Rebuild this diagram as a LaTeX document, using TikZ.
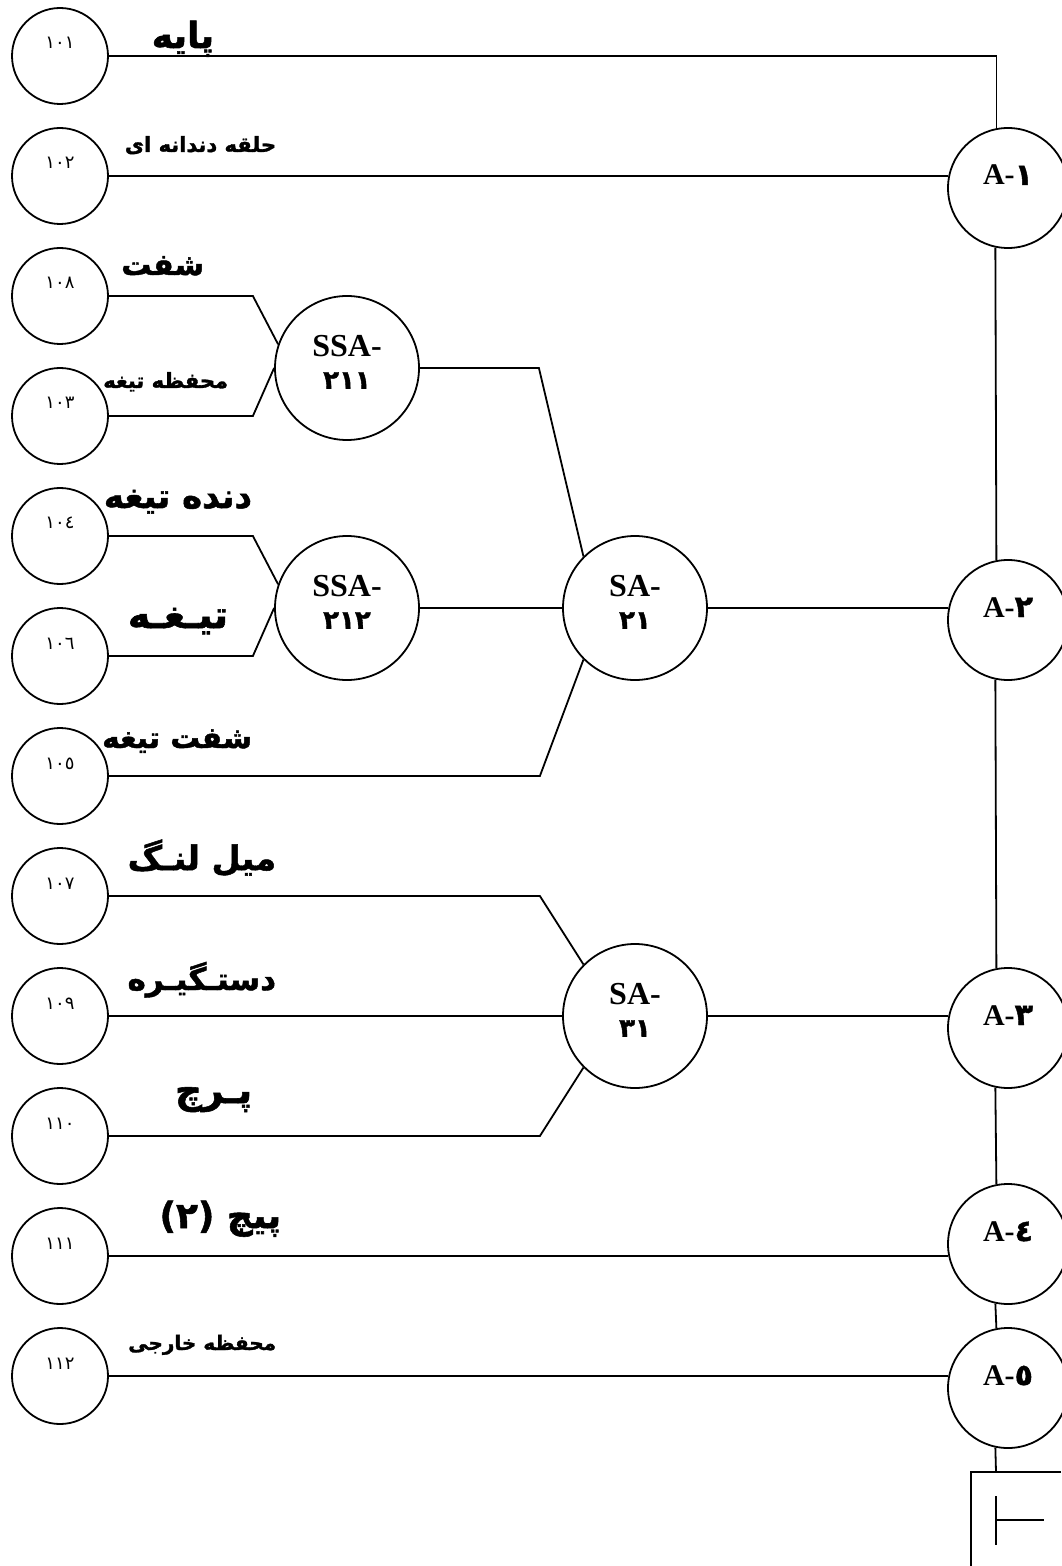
\documentclass[tikz,border=0pt]{standalone}
\usepackage{fontspec}
\setmainfont{Liberation Serif}
\newfontfamily\arabicfont[Script=Arabic,BoldFeatures={FakeBold=1.5}]{DejaVu Sans}
\TeXXeTstate=1
\usetikzlibrary{calc}

\newcommand{\fafont}[1]{\arabicfont\bfseries\fontsize{#1}{#1}\selectfont}
\newcommand{\lift}[2]{\raisebox{#1}[0pt][0pt]{#2}}

\begin{document}
\begin{tikzpicture}[x=0.5pt,y=-0.5pt,line width=0.9pt,
	partc/.style={draw,circle,minimum size=48pt,inner sep=0pt,font=\arabicfont\fontsize{9}{10}\selectfont},
	assyc/.style={draw,circle,minimum size=60pt,inner sep=0pt,font=\bfseries\fontsize{15}{15}\selectfont},
	subc/.style={draw,circle,minimum size=72pt,inner sep=0pt,font=\bfseries\fontsize{16}{16}\selectfont},
	lbl/.style={anchor=base east,inner sep=0pt}]

	\useasboundingbox (0,0) rectangle (1061,1566);

	% parts
	\node[partc] (p101) at (60,56) {\lift{3.5pt}{١٠١}};
	\node[partc] (p102) at (60,176) {\lift{3.5pt}{١٠٢}};
	\node[partc] (p108) at (60,296) {\lift{3.5pt}{١٠٨}};
	\node[partc] (p103) at (60,416) {\lift{3.5pt}{١٠٣}};
	\node[partc] (p104) at (60,536) {\lift{3.5pt}{١٠٤}};
	\node[partc] (p106) at (60,656) {\lift{3.5pt}{١٠٦}};
	\node[partc] (p105) at (60,776) {\lift{3.5pt}{١٠٥}};
	\node[partc] (p107) at (60,896) {\lift{3.5pt}{١٠٧}};
	\node[partc] (p109) at (60,1016) {\lift{3.5pt}{١٠٩}};
	\node[partc] (p110) at (60,1136) {\lift{3.5pt}{١١٠}};
	\node[partc] (p111) at (60,1256) {\lift{3.5pt}{١١١}};
	\node[partc] (p112) at (60,1376) {\lift{3.5pt}{١١٢}};

	% part names
	\node[lbl] (n101) at (215,48) {\fafont{18}\beginR پایه\endR};
	\node[lbl] (n102) at (277,152) {\fafont{10.5}\beginR حلقه دندانه ای\endR};
	\node[lbl] (n108) at (205,275) {\fafont{15}\beginR شفت\endR};
	\node[lbl] (n103) at (229,388) {\fafont{10.5}\beginR محفظه تیغه\endR};
	\node[lbl] (n104) at (253,508) {\fafont{17}\beginR دنده تیغه\endR};
	\node[lbl] (n106) at (229,628) {\fafont{19}\beginR تیـغـه\endR};
	\node[lbl] (n105) at (253,748) {\fafont{14.8}\beginR شفت تیغه\endR};
	\node[lbl] (n107) at (277,870) {\fafont{16.8}\beginR میل لنـگ\endR};
	\node[lbl] (n109) at (277,990) {\fafont{15.5}\beginR دستـگیـره\endR};
	\node[lbl] (n110) at (253,1103) {\fafont{18.7}\beginR پـرچ\endR};
	\node[lbl] (n111) at (282,1228) {\fafont{18}\beginR پیچ \beginL(٢)\endL{}\endR};
	\node[lbl] (n112) at (277,1350) {\fafont{10}\beginR محفظه خارجی\endR};

	% sub-assemblies
	\node[subc] (ssa211) at (347,368) {\lift{-3.5pt}{\begin{tabular}{@{}c@{}}SSA-\\{\arabicfont\fontsize{13}{16}\selectfont ٢١١}\end{tabular}}};
	\node[subc] (ssa212) at (347,608) {\lift{-3.5pt}{\begin{tabular}{@{}c@{}}SSA-\\{\arabicfont\fontsize{13}{16}\selectfont ٢١٢}\end{tabular}}};
	\node[subc] (sa21) at (635,608) {\lift{-3.5pt}{\begin{tabular}{@{}c@{}}SA-\\{\arabicfont\fontsize{13}{16}\selectfont ٢١}\end{tabular}}};
	\node[subc] (sa31) at (635,1016) {\lift{-3.5pt}{\begin{tabular}{@{}c@{}}SA-\\{\arabicfont\fontsize{13}{16}\selectfont ٣١}\end{tabular}}};

	% assemblies
	\node[assyc] (a1) at (1008,188) {\lift{1.5pt}{A-{\arabicfont ١}}};
	\node[assyc] (a2) at (1008,620) {\lift{1.5pt}{A-{\arabicfont ٢}}};
	\node[assyc] (a3) at (1008,1028) {\lift{1.5pt}{A-{\arabicfont ٣}}};
	\node[assyc] (a4) at (1008,1244) {\lift{1.5pt}{A-{\arabicfont ٤}}};
	\node[assyc] (a5) at (1008,1388) {\lift{1.5pt}{A-{\arabicfont ٥}}};
	\coordinate (stop) at (996,1472);

	\draw (p101.east) -- (p101.east -| a1.101.5) -- (a1.101.5);
	\draw (p102.east) -- (p102.east -| a1.168.5);
	\draw (p108.east) -- ++(144,0) -- (ssa211.161);
	\draw (p103.east) -- ++(144,0) -- (ssa211.west);
	\draw (p104.east) -- ++(144,0) -- (ssa212.161);
	\draw (p106.east) -- ++(144,0) -- (ssa212.west);
	\draw (ssa211.east) -- ++(119,0) -- (sa21.135);
	\draw (ssa212.east) -- (sa21.west);
	\draw (p105.east) -- ++(431,0) -- (sa21.225);
	\draw (sa21.east) -- (sa21.east -| a2.168.5);
	\draw (p107.east) -- ++(431,0) -- (sa31.135);
	\draw (p109.east) -- (sa31.west);
	\draw (p110.east) -- ++(431,0) -- (sa31.225);
	\draw (sa31.east) -- (sa31.east -| a3.168.5);
	\draw (p111.east) -- (p111.east -| a4.191.5);
	\draw (p112.east) -- (p112.east -| a5.168.5);

	% spine
	\draw (a1.258.5) -- (a2.101.5);
	\draw (a2.258.5) -- (a3.101.5);
	\draw (a3.258.5) -- (a4.101.5);
	\draw (a4.258.5) -- (a5.101.5);
	\draw (a5.258.5) -- (stop);

	% end mark
	\draw (1061,1472) -| (971,1566);
	\draw (996,1496) -- (996,1545);
	\draw (996,1520) -- (1044,1520);
\end{tikzpicture}
\end{document}
